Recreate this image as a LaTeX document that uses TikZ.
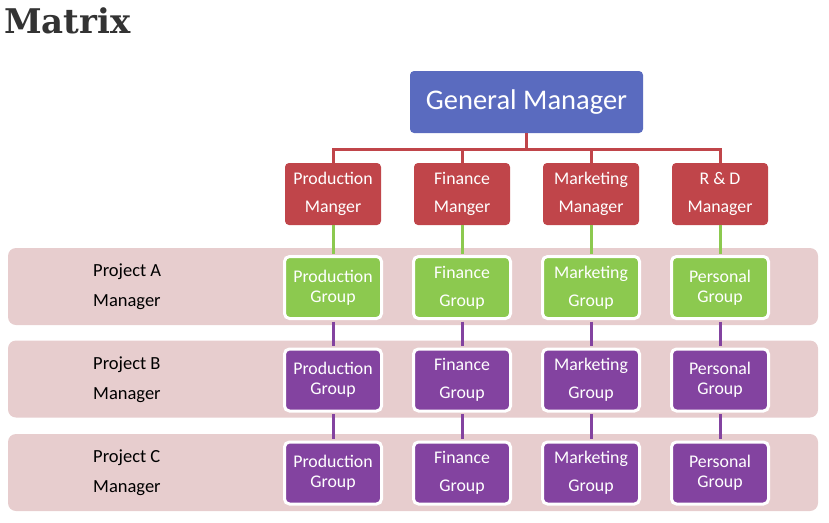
\documentclass[tikz,border=0pt]{standalone}
\usepackage{fontspec}
\setmainfont{Carlito}
\newfontfamily\titlefont{DejaVu Serif}
\definecolor{gmblue}{HTML}{5A6BBF}
\definecolor{mgrred}{HTML}{C0454A}
\definecolor{linered}{HTML}{C0454A}
\definecolor{grpgreen}{HTML}{8CC94F}
\definecolor{grppurple}{HTML}{8343A0}
\definecolor{bandpink}{HTML}{E7CDCE}
\definecolor{titlegray}{HTML}{333333}
\tikzset{
  gmbox/.style={fill=gmblue, rounded corners=4pt, minimum width=233pt, minimum height=62pt, text=white, font=\fontsize{28.5}{32}\selectfont, inner sep=0pt},
  mgrbox/.style={fill=mgrred, rounded corners=4pt, minimum width=96pt, minimum height=62pt, text=white, align=center, font=\fontsize{17.8}{28}\selectfont, inner sep=0pt},
  grpbox/.style={draw=white, line width=3pt, rounded corners=5pt, minimum width=97pt, minimum height=62pt, text=white, align=center, inner sep=0pt},
  grpgreenbox/.style={grpbox, fill=grpgreen},
  grppurplebox/.style={grpbox, fill=grppurple},
  tight/.style={font=\fontsize{17.8}{20}\selectfont},
  wide/.style={font=\fontsize{17.8}{28}\selectfont},
  band/.style={fill=bandpink, rounded corners=8pt, minimum width=810pt, minimum height=77pt, inner sep=0pt},
  projlabel/.style={anchor=west, align=left, text=black, font=\fontsize{18.5}{30}\selectfont, inner sep=0pt},
  redline/.style={draw=linered, line width=3pt},
  greenline/.style={draw=grpgreen, line width=3pt},
  purpleline/.style={draw=grppurple, line width=3pt},
}
\begin{document}
\begin{tikzpicture}[x=1pt,y=-1pt]
\useasboundingbox (0,0) rectangle (829,522);
% title
\node[anchor=west, inner sep=0pt, text=titlegray, font=\titlefont\bfseries\fontsize{34}{40}\selectfont] (title) at (4,21) {Matrix};
% bands
\node[band] (bandA) at (413,286.5) {};
\node[band] (bandB) at (413,379) {};
\node[band] (bandC) at (413,472.5) {};
% general manager
\node[gmbox] (gm) at (526.5,102) {General Manager};
% managers
\node[mgrbox] (m1) at (333,194) {Production\\Manger};
\node[mgrbox] (m2) at (462,194) {Finance\\Manger};
\node[mgrbox] (m3) at (591,194) {Marketing\\Manager};
\node[mgrbox] (m4) at (720,194) {R \& D\\Manager};
% connectors GM -> managers
\foreach \m in {m1,m2,m3,m4}{
  \draw[redline] (gm.south) -- ++(0,16) -| (\m.north);
}
% project labels
\node[projlabel] (pa) at (93,287) {Project A\\Manager};
\node[projlabel] (pb) at (93,380) {Project B\\Manager};
\node[projlabel] (pc) at (93,473) {Project C\\Manager};
% groups row A
\node[grpgreenbox, tight] (a1) at (333,287.5) {Production\\Group};
\node[grpgreenbox, wide] (a2) at (462,287.5) {Finance\\Group};
\node[grpgreenbox, wide] (a3) at (591,287.5) {Marketing\\Group};
\node[grpgreenbox, tight] (a4) at (720,287.5) {Personal\\Group};
% row B
\node[grppurplebox, tight] (b1) at (333,380) {Production\\Group};
\node[grppurplebox, wide] (b2) at (462,380) {Finance\\Group};
\node[grppurplebox, wide] (b3) at (591,380) {Marketing\\Group};
\node[grppurplebox, tight] (b4) at (720,380) {Personal\\Group};
% row C
\node[grppurplebox, tight] (c1) at (333,473) {Production\\Group};
\node[grppurplebox, wide] (c2) at (462,473) {Finance\\Group};
\node[grppurplebox, wide] (c3) at (591,473) {Marketing\\Group};
\node[grppurplebox, tight] (c4) at (720,473) {Personal\\Group};
% connectors
\foreach \i in {1,2,3,4}{
  \draw[greenline] (m\i.south) -- ([yshift=1.5pt]a\i.north);
  \draw[purpleline] ([yshift=-1.5pt]a\i.south) -- ([yshift=1.5pt]b\i.north);
  \draw[purpleline] ([yshift=-1.5pt]b\i.south) -- ([yshift=1.5pt]c\i.north);
}
\end{tikzpicture}
\end{document}
